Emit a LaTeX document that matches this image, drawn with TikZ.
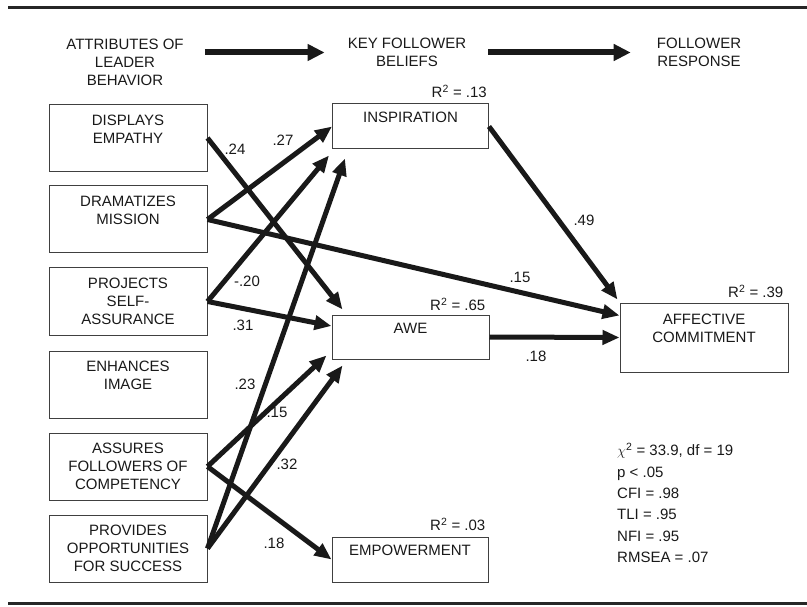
\documentclass[tikz,border=0pt]{standalone}
\usepackage{fontspec}
\setmainfont{Liberation Sans}
\usetikzlibrary{arrows.meta}
\begin{document}
\begin{tikzpicture}[x=1pt,y=-1pt,
txt/.style={inner sep=0pt,align=center,text=black!90,font=\fontsize{15}{18}\selectfont},
box/.style={txt,draw=black!75,line width=1pt},
lbox/.style={box,minimum width=158pt,minimum height=67pt},
mbox/.style={box,minimum width=156pt,minimum height=45pt},
link/.style={line width=5pt,draw=black!90,-{Triangle[length=17pt,width=14pt]}},
bigarrow/.style={line width=6pt,draw=black!90,-{Triangle[length=17pt,width=16pt]}},
rsq/.style={txt,anchor=east}]
\useasboundingbox(0,0)rectangle(807,607);
\draw[line width=3pt,black!85](8,8)--(807,8)(8,603)--(807,603);
\node[txt](lead)at(125,62){ATTRIBUTES OF\\LEADER\\BEHAVIOR};
\node[txt](key)at(407,52.5){KEY FOLLOWER\\BELIEFS};
\node[txt](resp)at(699,52.5){FOLLOWER\\RESPONSE};
\draw[bigarrow,shorten <=21pt,shorten >=23pt](lead.east|-key.west)--(key.west);
\draw[bigarrow,shorten <=22pt,shorten >=26pt](key.east)--(resp.west);
\node[lbox](empathy)at(128,138){DISPLAYS\\EMPATHY\\~};
\node[lbox](mission)at(128,219.5){DRAMATIZES\\MISSION\\~};
\node[lbox](selfass)at(128,301.5){PROJECTS\\SELF-\\ASSURANCE};
\node[lbox](image)at(128,384.5){ENHANCES\\IMAGE\\~};
\node[lbox](compet)at(128,466.5){ASSURES\\FOLLOWERS OF\\COMPETENCY};
\node[lbox](oppor)at(128,548.5){PROVIDES\\OPPORTUNITIES\\FOR SUCCESS};
\node[mbox](insp)at(410.5,126.5){INSPIRATION\\~};
\node[mbox,minimum width=157pt,minimum height=44pt](awe)at(410.5,337){AWE\\~};
\node[mbox](empow)at(410,559.5){EMPOWERMENT\\~};
\node[box,minimum width=168pt,minimum height=69pt](affect)at(704,337.5){AFFECTIVE\\COMMITMENT\\~};
\node[rsq](rinsp)at([xshift=-2pt,yshift=12pt]insp.north east){R\textsuperscript{2} = .13};
\node[rsq](rawe)at([xshift=-4pt,yshift=10pt]awe.north east){R\textsuperscript{2} = .65};
\node[rsq](rempow)at([xshift=-3pt,yshift=12pt]empow.north east){R\textsuperscript{2} = .03};
\node[rsq](raffect)at([xshift=-5pt,yshift=11pt]affect.north east){R\textsuperscript{2} = .39};
\draw[link](empathy.east)--([xshift=11pt,yshift=5pt]awe.north west);
\draw[link](mission.east)--(insp.west);
\draw[link](mission.east)--([yshift=22pt]affect.west);
\draw[link](selfass.east)--([xshift=-3pt,yshift=-6pt]insp.south west);
\draw[link](selfass.east)--([yshift=11pt]awe.west);
\draw[link](compet.east)--([xshift=-5pt,yshift=4pt]awe.south west);
\draw[link](compet.east)--(empow.west);
\draw[link](oppor.east)--([xshift=13pt,yshift=-9pt]insp.south west);
\draw[link](oppor.east)--([xshift=11pt,yshift=-6pt]awe.south west);
\draw[link](insp.east)--([xshift=-2pt,yshift=3pt]affect.north west);
\draw[link](awe.east)--(affect.west);
\node[txt](c1)at(235,149){.24};
\node[txt](c2)at(283,140){.27};
\node[txt](c3)at(247,281){-.20};
\node[txt](c4)at(243,325){.31};
\node[txt](c5)at(245,384){.23};
\node[txt](c6)at(277,412){.15};
\node[txt](c7)at(287,464){.32};
\node[txt](c8)at(274,543){.18};
\node[txt](c9)at(584,220){.49};
\node[txt](c10)at(520,277){.15};
\node[txt](c11)at(536,356){.18};
\node[txt,align=left,anchor=north west,font=\fontsize{15}{21.4}\selectfont](fit)at(617,443)
{$\chi$\textsuperscript{2} = 33.9, df = 19\\p < .05\\CFI = .98\\TLI = .95\\NFI = .95\\RMSEA = .07};
\end{tikzpicture}
\end{document}
